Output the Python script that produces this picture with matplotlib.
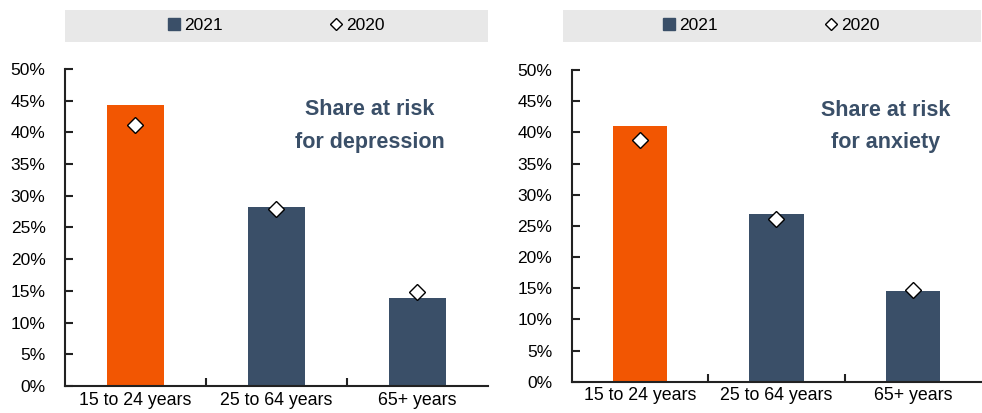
import matplotlib
matplotlib.use("Agg")
import matplotlib.pyplot as plt
from matplotlib.lines import Line2D
from matplotlib.ticker import PercentFormatter

plt.rcParams['font.family'] = ['Liberation Sans', 'DejaVu Sans']

# data
age_groups = ["15 to 24 years", "25 to 64 years", "65+ years"]
depression_2021 = [44.3, 28.2, 13.9]
depression_2020 = [41.2, 27.9, 14.9]
anxiety_2021 = [41.0, 26.9, 14.6]
anxiety_2020 = [38.8, 26.1, 14.7]
panel_titles = ["Share at risk\nfor depression", "Share at risk\nfor anxiety"]

ORANGE = "#F25602"
NAVY = "#3A4F68"
BAND = "#E8E8E8"

fig = plt.figure(figsize=(9.82, 4.13), dpi=100)

panels = [
    # axes rect, legend band rect, data, title pos
    ([0.0662, 0.0654, 0.4307, 0.7676], [0.0662, 0.899, 0.4307, 0.077],
     depression_2021, depression_2020, panel_titles[0], (0.72, 0.82)),
    ([0.5822, 0.0758, 0.4168, 0.7547], [0.5733, 0.899, 0.4257, 0.077],
     anxiety_2021, anxiety_2020, panel_titles[1], (0.768, 0.82)),
]

for rect, band_rect, vals21, vals20, title, tpos in panels:
    ax = fig.add_axes(rect)
    x = list(range(len(age_groups)))
    colors = [ORANGE] + [NAVY] * (len(age_groups) - 1)
    ax.bar(x, vals21, width=0.4, color=colors, zorder=2)
    ax.plot(x, vals20, linestyle="none", marker="D", markersize=8.5,
            markerfacecolor="white", markeredgecolor="black",
            markeredgewidth=1.0, zorder=3)

    ax.set_xlim(-0.5, len(age_groups) - 0.5)
    ax.set_ylim(0, 50)
    ax.set_yticks(range(0, 51, 5))
    ax.yaxis.set_major_formatter(PercentFormatter(decimals=0))
    ax.set_xticks(x)
    ax.set_xticklabels(age_groups)
    ax.set_xticks([0.5, 1.5], minor=True)
    ax.tick_params(axis="x", which="major", length=0, labelsize=12.8, pad=4)
    ax.tick_params(axis="x", which="minor", direction="in", length=6, width=1.5, color="#222222")
    ax.tick_params(axis="y", direction="in", length=6, width=1.5, color="#222222",
                   labelsize=12.5, pad=14)
    for side in ["top", "right"]:
        ax.spines[side].set_visible(False)
    for side in ["left", "bottom"]:
        ax.spines[side].set_linewidth(1.5)
        ax.spines[side].set_color("#222222")

    ax.text(tpos[0], tpos[1], title, transform=ax.transAxes, ha="center", va="center",
            fontsize=15.5, fontweight="bold", color=NAVY, linespacing=1.7)

    # legend band
    bax = fig.add_axes(band_rect)
    bax.set_facecolor(BAND)
    bax.set_xticks([])
    bax.set_yticks([])
    for s in bax.spines.values():
        s.set_visible(False)
    handles = [
        Line2D([], [], linestyle="none", marker="s", markersize=8, color=NAVY),
        Line2D([], [], linestyle="none", marker="D", markersize=6.5,
               markerfacecolor="white", markeredgecolor="black", markeredgewidth=1.0),
    ]
    bax.legend(handles, ["2021", "2020"], loc="center", ncol=2, frameon=False,
               fontsize=12.5, handlelength=0.6, handletextpad=0.3, columnspacing=6.2,
               borderaxespad=0)

fig.savefig("out.png", dpi=100)
